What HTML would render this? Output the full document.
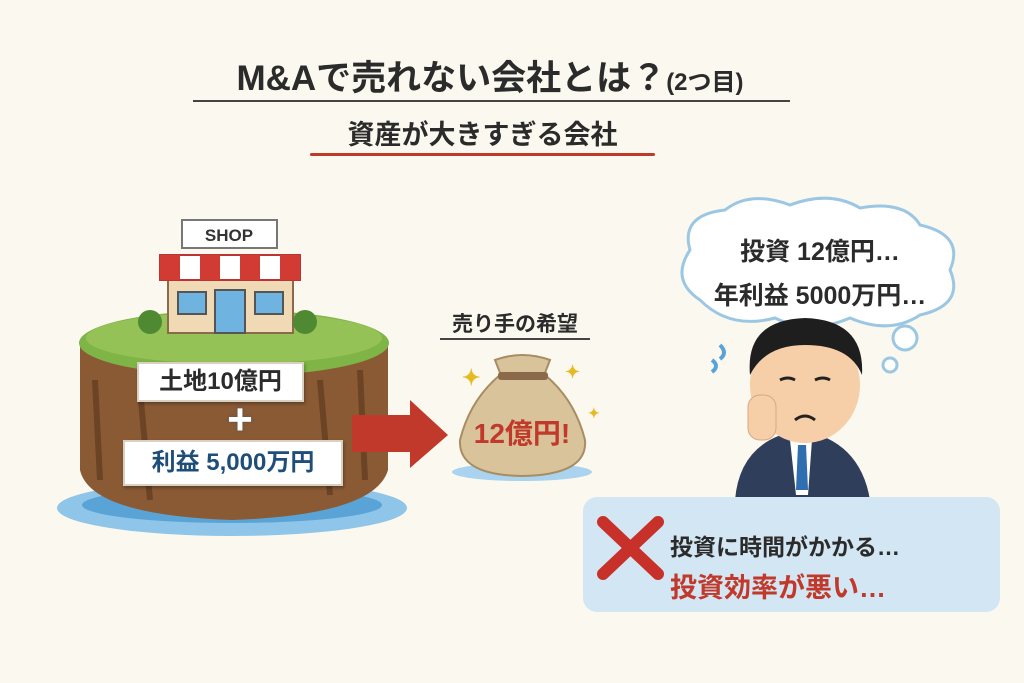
<!DOCTYPE html>
<html><head><meta charset="utf-8"><style>
body{margin:0;width:1024px;height:683px;background:#fbf8ef;position:relative;overflow:hidden;font-family:"Liberation Sans","Noto Sans CJK JP",sans-serif;font-weight:bold;color:#2b2b2b}
.a{position:absolute}
.box{background:#fff;border:2px solid #d8d0c0;box-shadow:1px 2px 3px rgba(0,0,0,.3);text-align:center}
</style></head><body>
<div class="a" style="left:180px;top:50px;width:620px;text-align:center;font-size:35px;white-space:nowrap">M&amp;Aで売れない会社とは？<span style="font-size:24px">(2つ目)</span></div>
<div class="a" style="left:193px;top:100px;width:597px;height:2px;background:#444"></div>
<div class="a" style="left:300px;top:113px;width:365px;text-align:center;font-size:27px">資産が大きすぎる会社</div>
<div class="a" style="left:310px;top:153px;width:345px;height:3px;background:#c0392b;border-radius:2px"></div>

<svg class="a" style="left:0;top:0" width="1024" height="683">
<!-- water -->
<ellipse cx="232" cy="508" rx="175" ry="28" fill="#8ec5e8"/>
<ellipse cx="232" cy="505" rx="150" ry="18" fill="#5aa3d6"/>
<!-- dirt -->
<path d="M80 345 L80 470 Q90 515 232 520 Q375 515 388 470 L388 345 Z" fill="#8a5a35"/>
<path d="M95 380 L100 480 M140 390 L150 500 M320 380 L330 495 M360 370 L365 480" stroke="#6b4325" stroke-width="6"/>
<!-- grass -->
<ellipse cx="234" cy="343" rx="155" ry="33" fill="#7fb446"/>
<ellipse cx="234" cy="338" rx="148" ry="26" fill="#95c257"/>
<!-- shop -->
<rect x="168" y="278" width="125" height="55" fill="#f0d9b5" stroke="#8a6a4a" stroke-width="2"/>
<rect x="178" y="292" width="28" height="22" fill="#6fb3e0" stroke="#555" stroke-width="2"/>
<rect x="255" y="292" width="28" height="22" fill="#6fb3e0" stroke="#555" stroke-width="2"/>
<rect x="215" y="290" width="30" height="43" fill="#6fb3e0" stroke="#555" stroke-width="2"/>
<path d="M160 255 L300 255 L300 280 L160 280 Z" fill="#fff" stroke="#b33" stroke-width="2"/>
<g fill="#d23b33"><rect x="160" y="255" width="20" height="25"/><rect x="200" y="255" width="20" height="25"/><rect x="240" y="255" width="20" height="25"/><rect x="280" y="255" width="20" height="25"/></g>
<rect x="182" y="220" width="95" height="28" fill="#fff" stroke="#777" stroke-width="2"/>
<text x="229" y="241" font-size="17" text-anchor="middle" fill="#333" font-weight="bold" font-family="Liberation Sans">SHOP</text>
<circle cx="150" cy="322" r="12" fill="#4f8a32"/><circle cx="305" cy="322" r="12" fill="#4f8a32"/>
<!-- arrow -->
<path d="M352 415 L410 415 L410 400 L448 435 L410 468 L410 452 L352 452 Z" fill="#c0392b"/>
<!-- bag -->
<ellipse cx="522" cy="472" rx="70" ry="9" fill="#a9d3ee"/>
<path d="M500 375 Q470 400 460 440 Q458 475 522 476 Q588 475 585 440 Q575 400 545 375 Z" fill="#d9c39b" stroke="#a88d62" stroke-width="2"/>
<path d="M495 360 Q522 350 550 360 L543 378 L502 378 Z" fill="#d9c39b" stroke="#a88d62" stroke-width="2"/>
<rect x="498" y="372" width="50" height="8" rx="3" fill="#8a6a4a"/>
<text x="522" y="443" font-size="28" text-anchor="middle" fill="#c0392b" font-weight="bold" font-family="Liberation Sans,Noto Sans CJK JP">12億円!</text>
<text x="462" y="385" font-size="22" fill="#e7b923">✦</text><text x="565" y="378" font-size="18" fill="#e7b923">✦</text><text x="588" y="418" font-size="14" fill="#e7b923">✦</text>
<!-- thought bubble -->
<path d="M700 300 Q670 280 690 250 Q680 215 725 210 Q750 190 790 205 Q830 190 860 208 Q905 200 920 225 Q965 235 950 270 Q965 305 920 315 Q890 335 850 318 Q810 335 775 318 Q730 330 700 300 Z" fill="#fff" stroke="#9cc7e3" stroke-width="3"/>
<circle cx="905" cy="338" r="12" fill="#fff" stroke="#9cc7e3" stroke-width="3"/>
<circle cx="890" cy="365" r="7" fill="#fff" stroke="#9cc7e3" stroke-width="3"/>
<!-- man -->
<path d="M735 500 Q740 440 800 430 Q860 440 870 500 Z" fill="#2f3e5a"/>
<path d="M790 440 L812 440 L808 495 L796 495 Z" fill="#fff"/>
<path d="M798 445 L806 445 L808 490 L796 490 Z" fill="#2f6fb0"/>
<ellipse cx="805" cy="385" rx="55" ry="58" fill="#f6cfa8"/>
<path d="M750 375 Q745 320 805 318 Q865 320 862 375 Q850 345 805 345 Q765 345 750 375 Z" fill="#1e1e1e"/>
<rect x="748" y="395" width="28" height="45" rx="12" fill="#f6cfa8" stroke="#d9a77f"/>
<path d="M780 380 q8 -4 15 0 M815 380 q8 -4 15 0" stroke="#222" stroke-width="3" fill="none"/>
<path d="M795 420 q10 -8 20 0" stroke="#222" stroke-width="3" fill="none"/>
<path d="M720 345 q8 8 0 14 M712 360 q8 6 0 12" stroke="#5aa3d6" stroke-width="4" fill="none"/>
<!-- blue box -->
<rect x="583" y="497" width="417" height="115" rx="14" fill="#d3e6f3"/>
<path d="M603 522 L658 574 M658 522 L603 574" stroke="#c8302a" stroke-width="12" stroke-linecap="round"/>
</svg>

<div class="a box" style="left:137px;top:362px;width:163px;height:36px;font-size:24px;line-height:36px">土地10億円</div>
<div class="a" style="left:215px;top:395px;width:50px;text-align:center;font-size:44px;color:#fff;text-shadow:0 0 3px #555">+</div>
<div class="a box" style="left:123px;top:440px;width:216px;height:42px;font-size:24px;line-height:42px;color:#1f4e79">利益 5,000万円</div>
<div class="a" style="left:440px;top:308px;width:150px;text-align:center;font-size:21px">売り手の希望</div>
<div class="a" style="left:440px;top:338px;width:150px;height:2px;background:#444"></div>
<div class="a" style="left:690px;top:230px;width:260px;text-align:center;font-size:25px;line-height:44px">投資 12億円…<br>年利益 5000万円…</div>
<div class="a" style="left:670px;top:528px;font-size:23px">投資に時間がかかる…</div>
<div class="a" style="left:670px;top:566px;font-size:27px;color:#c0392b">投資効率が悪い…</div>
</body></html>
